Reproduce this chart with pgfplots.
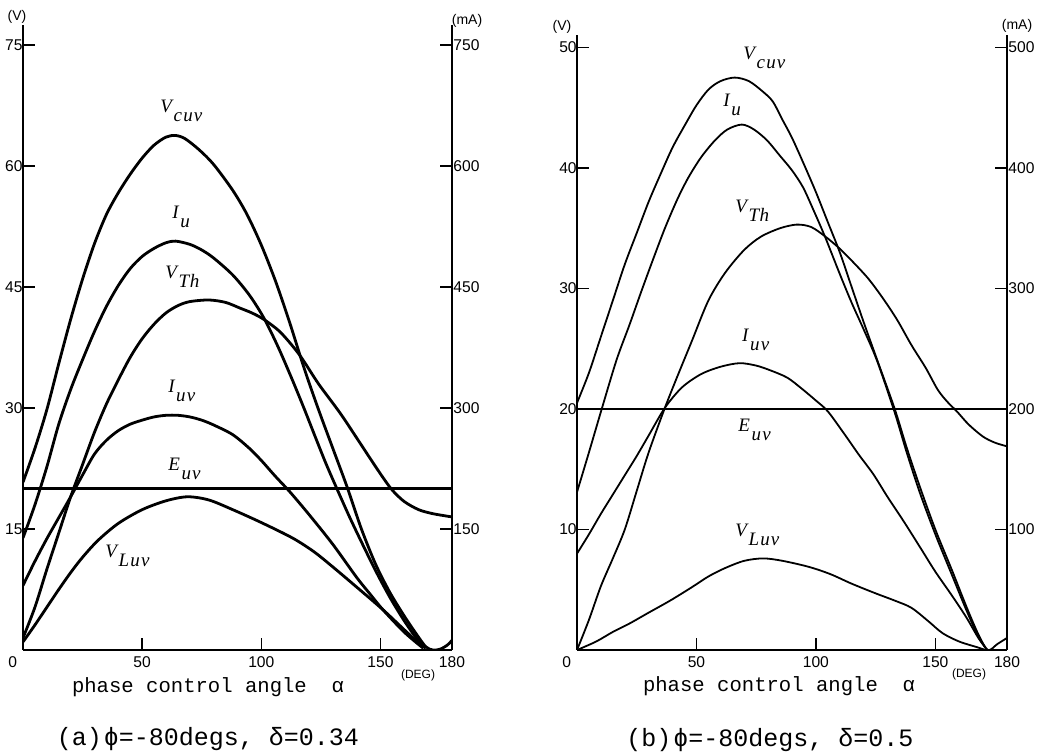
\documentclass[border=0pt]{standalone}
\usepackage{fontspec}
\setmainfont{Liberation Serif}
\setsansfont{Liberation Sans}
\setmonofont{Liberation Mono}
\usepackage{pgfplots}
\pgfplotsset{compat=1.18}

% curve label: letter with a big, lowered subscript
\newcommand{\lb}[2]{{\fontsize{9.5}{10}\selectfont\itshape #1\kern0.8pt\raisebox{-4.5pt}{#2}}}
\newcommand{\tk}{\sffamily\fontsize{7.8}{8}\selectfont}
\newcommand{\un}{\sffamily\fontsize{7}{8}\selectfont}

\pgfplotsset{
    panel/.style={
        scale only axis, xmin=0, xmax=180, ymin=0,
        axis x line*=bottom, axis y line*=left,
        xtick={0,50,100,150,180},
        xticklabels={\makebox[0pt][r]{0\hspace{3pt}},50,100,150,180},
        tick align=inside, major tick length=6pt,
        tick style={line width=0.8pt, black},
        axis line style={line width=0.9pt},
        ticklabel style={font=\tk},
        yticklabel style={inner xsep=0pt},
        /pgf/number format/assume math mode=true,
        clip=true,
    },
    mAaxis/.style={
        scale only axis, xmin=0, xmax=180, ymin=0,
        axis x line=none, axis y line*=right,
        tick align=inside, major tick length=6pt,
        tick style={line width=0.8pt, black},
        axis line style={line width=0.9pt},
        ticklabel style={font=\tk},
        yticklabel style={inner xsep=0.5pt},
        /pgf/number format/assume math mode=true,
    },
    crvA/.style={black, line width=1.4pt, smooth, no marks},
    crvB/.style={black, line width=0.9pt, smooth, no marks},
}

\begin{document}
\begin{tikzpicture}
\useasboundingbox (0,0) rectangle (521.5pt,377pt);

% ---------------- (a) ----------------
\begin{axis}[panel, width=214.5pt, height=312.5pt, ymax=77.5,
    at={(11.5pt,52pt)}, anchor=south west,
    ytick={15,30,45,60,75}]
% V_cuv
\addplot[crvA] coordinates {(0,20.8) (5,25) (10,29.8) (15,35.5) (20,41) (25,46) (30,50.4) (35,54) (40,56.7) (45,59) (50,61) (55,62.6) (60,63.6) (64,63.8) (68,63.4) (74,62) (80,60.2) (88,57) (94,54) (100,50.2) (106,45.7) (112,40.5) (118,34.9) (124,29.8) (130,25) (136,20.2) (142,15) (148,10.6) (154,7.1) (160,4.2) (165,2) (169,0.4) (172,0) (175,0.1) (178,0.6) (180,1.2)};
% I_u
\addplot[crvA] coordinates {(0,13.9) (5,18) (10,22.7) (15,28) (20,32.3) (25,36) (30,39.5) (35,42.6) (40,45.2) (45,47.3) (50,48.8) (55,49.8) (60,50.5) (64,50.7) (70,50.3) (75,49.6) (80,48.6) (88,46.5) (95,44) (101,41.2) (107,37.6) (113,33.5) (118,29.9) (122,26.9) (127,23.2) (132,19.8) (137,16.5) (142,13.4) (148,9.8) (154,6.5) (160,3.6) (165,1.5) (169,0.2)};
% V_Th
\addplot[crvA] coordinates {(0,1.5) (5,5.3) (10,10) (15,14.5) (20,19) (25,23) (30,27) (35,30.5) (40,33.5) (45,36.3) (50,38.6) (55,40.4) (60,41.8) (65,42.7) (70,43.2) (78,43.4) (85,43.1) (91,42.4) (96,41.8) (101,41) (108,39.4) (116,36.6) (124,33) (133,29.4) (140,26.3) (146,23.6) (151,21.4) (155,19.8) (160,18.4) (166,17.4) (172,16.9) (180,16.5)};
% I_uv
\addplot[crvA] coordinates {(0,8) (5,11) (10,13.8) (15,16.4) (20,19) (25,21.7) (30,24.3) (35,26) (40,27.2) (45,28) (50,28.5) (55,28.9) (60,29.1) (65,29.1) (70,28.9) (75,28.5) (80,27.9) (88,26.7) (95,25) (100,23.5) (106,21.5) (112,19.6) (120,16.8) (130,13.1) (140,9) (146,6.8) (151,5) (160,2.2) (168,0.2)};
% V_Luv
\addplot[crvA] coordinates {(0,1.0) (5,3.1) (10,5.3) (15,7.5) (20,9.6) (25,11.5) (31.5,13.6) (40,15.7) (50,17.4) (60,18.5) (69,19) (78,18.6) (88,17.4) (100,15.8) (113,13.9) (122,12.2) (130,10.3) (140,7.8) (151,5) (160,2.5) (168,0.3)};
% E_uv
\addplot[black, line width=1.3pt, no marks] coordinates {(0,20) (180,20)};

\node[anchor=base west, inner sep=0] at (57.5,66.7) {\lb{V}{c\kern.6pt u\kern.6pt v}};
\node[anchor=base west, inner sep=0] at (62.5,53.5) {\lb{I}{u}};
\node[anchor=base west, inner sep=0] at (59.6,46.1) {\lb{V}{T\kern.3pt h}};
\node[anchor=base west, inner sep=0] at (60.8,31.9) {\lb{I}{u\kern.6pt v}};
\node[anchor=base west, inner sep=0] at (60.8,22.3) {\lb{E}{u\kern.6pt v}};
\node[anchor=base west, inner sep=0] at (34.4,11.5) {\lb{V}{L\kern.6pt u\kern.6pt v}};
\end{axis}
\begin{axis}[mAaxis, width=214.5pt, height=312.5pt, ymax=775,
    at={(11.5pt,52pt)}, anchor=south west,
    ytick={150,300,450,600,750}]
\end{axis}

% ---------------- (b) ----------------
\begin{axis}[panel, width=215pt, height=307.3pt, ymax=51,
    at={(288.5pt,52pt)}, anchor=south west,
    ytick={10,20,30,40,50}]
% V_cuv
\addplot[crvB] coordinates {(0,20.5) (5,23) (10,26) (15,29) (20,32) (25,34.6) (30,37.2) (35,39.5) (40,41.7) (45,43.5) (50,45.2) (55,46.5) (60,47.2) (66,47.5) (72,47.2) (78,46.3) (82,45.5) (86,44) (90,42.5) (95,40.3) (100,38) (105,35.5) (110,33) (115,30.1) (120,27.2) (125.6,24.1) (133,20) (138,16.8) (143.6,13.5) (150,10) (157,6.6) (163,3.6) (168,1.3) (172,0) (176,0.5) (180,1.0)};
% I_u
\addplot[crvB] coordinates {(0,13.1) (5,16.4) (10.5,20.1) (16.6,24.1) (22,27) (27,29.8) (32,32.5) (36.8,35) (42,37.4) (46.6,39.2) (52,40.9) (57.8,42.3) (63,43.2) (69,43.6) (74,43.2) (79.5,42.3) (85,41) (90,39.8) (94.6,38.4) (99,36.5) (103.8,34.3) (110,31.2) (115,28.8) (120,26.6) (125.6,24) (133,19.7) (138,16.4) (143.6,13) (150,9.6) (157,6.2) (163,3.3) (168,1.1) (171.6,0)};
% V_Th
\addplot[crvB] coordinates {(0,0) (5,2.5) (10,5.3) (15,7.6) (20,10) (25,13.2) (30,16.4) (36.8,20.1) (42,22.7) (48,25.6) (55,29) (62,31.3) (70,33.2) (77,34.3) (85,35) (92,35.3) (98,35.1) (104,34.3) (110,33.3) (116,32.1) (122,30.8) (128,29.2) (134,27.4) (140,25.3) (146,23.4) (151,21.6) (155,20.6) (159,19.8) (164,18.7) (170,17.7) (175,17.2) (180,16.9)};
% I_uv
\addplot[crvB] coordinates {(0,8) (5,9.6) (10,11.3) (15,12.9) (20,14.5) (25,16.1) (30,17.8) (36.8,20.1) (44,21.8) (52,22.9) (60,23.5) (68,23.8) (75,23.6) (81,23.2) (88,22.6) (94,21.7) (100,20.7) (105,19.8) (112,17.9) (118,16.2) (124,14.6) (130,12.7) (137,10.6) (144,8.4) (150,6.5) (157,4.5) (163,2.7) (168,1) (171,0.2)};
% V_Luv
\addplot[crvB] coordinates {(0,0) (8,0.7) (15,1.5) (22,2.2) (30,3.1) (39,4.1) (48,5.2) (55,6.1) (62,6.8) (70,7.4) (78,7.6) (86,7.4) (97,6.9) (106,6.3) (115,5.5) (125,4.7) (133,4.1) (140,3.5) (147,2.4) (153,1.4) (160,0.7) (168,0.2) (171,0)};
% E_uv
\addplot[black, line width=0.9pt, no marks] coordinates {(0,20) (180,20)};

\node[anchor=base west, inner sep=0] at (69.5,49.0) {\lb{V}{c\kern.6pt u\kern.6pt v}};
\node[anchor=base west, inner sep=0] at (61.1,45.1) {\lb{I}{u}};
\node[anchor=base west, inner sep=0] at (66.1,36.3) {\lb{V}{T\kern.3pt h}};
\node[anchor=base west, inner sep=0] at (69,25.6) {\lb{I}{u\kern.6pt v}};
\node[anchor=base west, inner sep=0] at (67.4,18.1) {\lb{E}{u\kern.6pt v}};
\node[anchor=base west, inner sep=0] at (66.1,9.4) {\lb{V}{L\kern.6pt u\kern.6pt v}};
\end{axis}
\begin{axis}[mAaxis, width=215pt, height=307.3pt, ymax=510,
    at={(288.5pt,52pt)}, anchor=south west,
    ytick={100,200,300,400,500}]
\end{axis}

% units, axis titles and captions
\node[font=\un] at (8.5pt,368.5pt) {(V)};
\node[font=\un] at (233.5pt,366.5pt) {(mA)};
\node[font=\un] at (281pt,363.5pt) {(V)};
\node[font=\un] at (508.5pt,364pt) {(mA)};
\node[font=\sffamily\fontsize{6}{7}\selectfont] at (209pt,39.5pt) {(DEG)};
\node[font=\sffamily\fontsize{6}{7}\selectfont] at (484.5pt,40pt) {(DEG)};
\node[font=\ttfamily\fontsize{10.3}{11}\selectfont] at (104pt,33.5pt) {phase control angle~~α};
\node[font=\ttfamily\fontsize{10.3}{11}\selectfont] at (389.5pt,34pt) {phase control angle~~α};
\node[font=\ttfamily\fontsize{12.5}{13}\selectfont] at (104pt,7.5pt) {(a)\kern1pt ϕ=-80degs, δ=0.34};
\node[font=\ttfamily\fontsize{12.5}{13}\selectfont] at (385pt,7pt) {(b)\kern1pt ϕ=-80degs, δ=0.5};
\end{tikzpicture}
\end{document}
